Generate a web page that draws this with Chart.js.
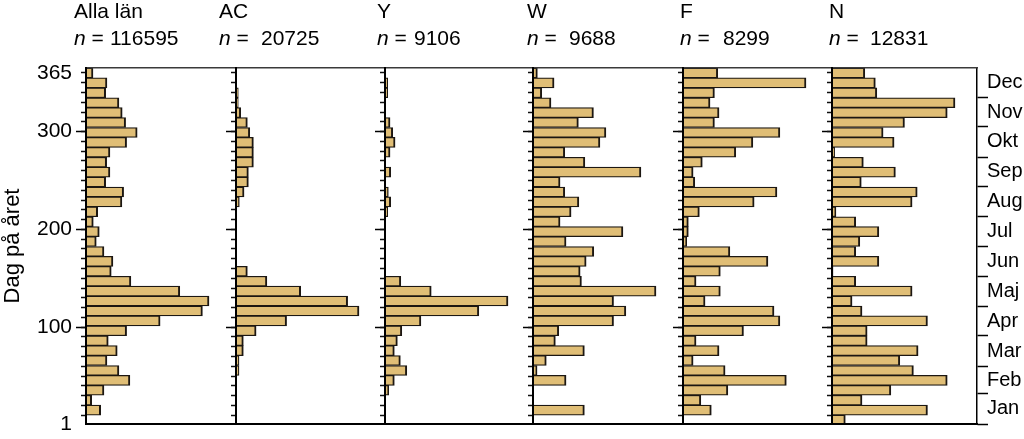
<!DOCTYPE html>
<html lang="sv">
<head>
<meta charset="utf-8">
<title>Dag på året</title>
<script src="https://cdn.jsdelivr.net/npm/chart.js@4.4.1/dist/chart.umd.min.js"></script>
<style>
  html, body { margin: 0; background: #fff; }
  #fig { position: relative; width: 1024px; height: 439px; overflow: hidden;
         font-family: 'Liberation Sans', Arial, sans-serif; color: #000; }
  #fig canvas { position: absolute; top: 0; }
  .head { position: absolute; top: -3px; font-size: 21px; line-height: 27px; white-space: pre; }
  .head .num { position: absolute; top: 27px; }
</style>
</head>
<body>
<div id="fig"></div>
<script>
const regions = ['Alla län', 'AC', 'Y', 'W', 'F', 'N'];
const totals = [116595, 20725, 9106, 9688, 8299, 12831];

// counts per bin, 36 bins of ~10 days, first bin = start of January
const allaLan = [0, 1419, 550, 1738, 4248, 3186, 2027, 3022, 2153, 3929, 7173, 11266,
  11903, 9075, 4344, 2442, 2607, 1738, 994, 1284, 705, 1130, 3475, 3640,
  1902, 2317, 1998, 2317, 3929, 4953, 3833, 3504, 3186, 1902, 2027, 676];
const ac = [0, 0, 0, 0, 0, 112, 112, 273, 273, 749, 1884, 4581,
  4158, 2409, 1150, 423, 0, 0, 0, 0, 0, 26, 124, 300,
  461, 461, 648, 648, 648, 513, 423, 176, 86, 86, 0, 0];
const yLan = [0, 0, 0, 75, 187, 437, 308, 187, 248, 337, 720, 1881,
  2466, 927, 317, 0, 0, 0, 0, 0, 0, 54, 115, 67,
  0, 115, 0, 101, 202, 155, 101, 0, 0, 54, 54, 0];
const wLan = [0, 317, 0, 0, 204, 25, 82, 317, 138, 159, 497, 573,
  497, 759, 299, 291, 328, 375, 204, 555, 167, 235, 283, 196,
  167, 666, 320, 196, 413, 450, 280, 373, 111, 54, 130, 27];
const fLan = [0, 154, 97, 244, 562, 229, 55, 196, 71, 329, 527, 495,
  120, 203, 71, 203, 462, 255, 20, 29, 29, 89, 387, 511,
  64, 55, 105, 287, 380, 527, 171, 196, 147, 171, 669, 189];
const nLan = [91, 652, 205, 402, 787, 556, 463, 588, 240, 240, 652, 205,
  137, 547, 162, 7, 320, 162, 190, 320, 162, 27, 547, 582,
  200, 433, 214, 18, 424, 349, 495, 787, 840, 306, 296, 224];
const series = [allaLan, ac, yLan, wLan, fLan, nLan];

const dayTicks = [1, 100, 200, 300, 360];
const dayTickLabels = ['1', '100', '200', '300', '365'];
const months = ['Jan', 'Feb', 'Mar', 'Apr', 'Maj', 'Jun', 'Jul', 'Aug', 'Sep', 'Okt', 'Nov', 'Dec'];
const monthStarts = [1, 32, 60, 91, 121, 152, 182, 213, 244, 274, 305, 335];

const BIN = 365 / 36;
const binMid = allaLan.map((_, k) => (k + 0.5) * BIN);
const monthMid = monthStarts.map((s, i) => (s + (monthStarts[i + 1] || 366)) / 2);

// layout (px)
const TOP = 68, BOTTOM = 424, H = 439;
const edges = [86, 236, 385, 533, 683, 832, 977];
const headX = [74, 219, 377, 527, 680, 829];
const numX = [110, 261, 414, 569, 723, 870];
const BAR_PX = 123; // longest bar of each panel

Chart.defaults.font.family = "'Liberation Sans', Arial, sans-serif";
Chart.defaults.color = '#000';

const fig = document.getElementById('fig');
// fixed axis sizes so every panel gets the same plot area
const fixW = w => s => { s.width = w; s.paddingTop = 0; s.paddingBottom = 0; };
const fixH = h => s => { s.height = h; s.paddingLeft = 0; s.paddingRight = 0; };
const hidden = { display: false };

// every y axis runs over the days of the year, no bar-chart offset
const dayAxis = (position, weight, extra) => Object.assign({
  axis: 'y', type: 'linear', position, weight, min: 1, max: 365, offset: false
}, extra);

series.forEach((vals, p) => {
  const first = p === 0, last = p === series.length - 1;
  const plotW = edges[p + 1] - edges[p];
  const padL = first ? edges[0] : 12;
  const padR = last ? 1024 - edges[6] : 0;

  const cv = document.createElement('canvas');
  cv.width = padL + plotW + padR;
  cv.height = H;
  cv.style.left = (edges[p] - padL) + 'px';
  fig.appendChild(cv);

  const head = document.createElement('div');
  head.className = 'head';
  head.style.left = headX[p] + 'px';
  head.innerHTML = regions[p] + '\n<i>n</i> =<span class="num" style="left:' +
    (numX[p] - headX[p]) + 'px">' + totals[p] + '</span>';
  fig.appendChild(head);

  const scales = {
    x: {
      axis: 'x', type: 'linear', position: 'bottom', min: 0,
      max: Math.max(...vals) * plotW / BAR_PX,
      ticks: hidden, grid: { drawOnChartArea: false, drawTicks: false },
      border: { color: '#000', width: 2, z: 1 }, afterFit: fixH(0)
    },
    xTop: {
      axis: 'x', type: 'linear', position: 'top', min: 0, max: 1,
      ticks: hidden, grid: { drawOnChartArea: false, drawTicks: false },
      border: { color: '#3a3a3a', width: 1.5, z: 1 }, afterFit: fixH(0)
    },
    y: dayAxis('left', 1, {
      afterBuildTicks: s => {
        s.ticks = dayTicks.filter(v => first || v % 100 === 0).map(v => ({ value: v }));
      },
      ticks: {
        display: first, autoSkip: false, padding: 4, font: { size: 21 },
        callback: v => dayTickLabels[dayTicks.indexOf(v)]
      },
      grid: {
        offset: false, drawOnChartArea: false, tickLength: 10, tickWidth: 1.5,
        tickColor: c => (c.tick && (c.tick.value === 1 || c.tick.value === 360)) ? 'rgba(0,0,0,0)' : '#000'
      },
      border: hidden,
      title: { display: first, text: 'Dag på året', font: { size: 22 }, padding: 0 },
      afterFit: fixW(padL)
    }),
    yMinor: dayAxis('left', 0, {
      afterBuildTicks: s => {
        s.ticks = [];
        for (let d = 10; d <= 360; d += 10) s.ticks.push({ value: d });
      },
      ticks: hidden,
      grid: { offset: false, drawOnChartArea: false, tickLength: 5, tickWidth: 1.5, tickColor: '#111' },
      border: { color: '#000', width: 2, z: 1 }, afterFit: fixW(0)
    })
  };

  if (last) {
    scales.mTick = dayAxis('right', 0, {
      afterBuildTicks: s => { s.ticks = monthStarts.map(v => ({ value: v })); },
      ticks: hidden,
      grid: { offset: false, drawOnChartArea: false, tickLength: 11, tickWidth: 1.5, tickColor: '#000' },
      border: { color: '#000', width: 1.5 }, afterFit: fixW(10)
    });
    scales.mLab = dayAxis('right', 1, {
      afterBuildTicks: s => { s.ticks = monthMid.map(v => ({ value: v })); },
      ticks: { autoSkip: false, padding: 0, font: { size: 20 }, callback: (v, i) => months[i] },
      grid: { offset: false, display: false, drawTicks: false },
      border: hidden, afterFit: fixW(padR - 10)
    });
  }

  new Chart(cv, {
    type: 'bar',
    data: {
      datasets: [{
        data: binMid.map((d, k) => ({ y: d, x: vals[k] })),
        xAxisID: 'x', yAxisID: 'y',
        backgroundColor: '#e0be76',
        borderColor: '#1c1712',
        borderWidth: { top: 1.25, bottom: 1.25, right: 2, left: 0 },
        barPercentage: 1, categoryPercentage: 1,
        clip: 0
      }]
    },
    options: {
      indexAxis: 'y',
      responsive: false,
      animation: false,
      devicePixelRatio: 1,
      layout: { padding: { top: TOP, bottom: H - BOTTOM, left: 0, right: 0 } },
      plugins: { legend: { display: false }, tooltip: { enabled: false } },
      scales
    }
  });
});
</script>
</body>
</html>
